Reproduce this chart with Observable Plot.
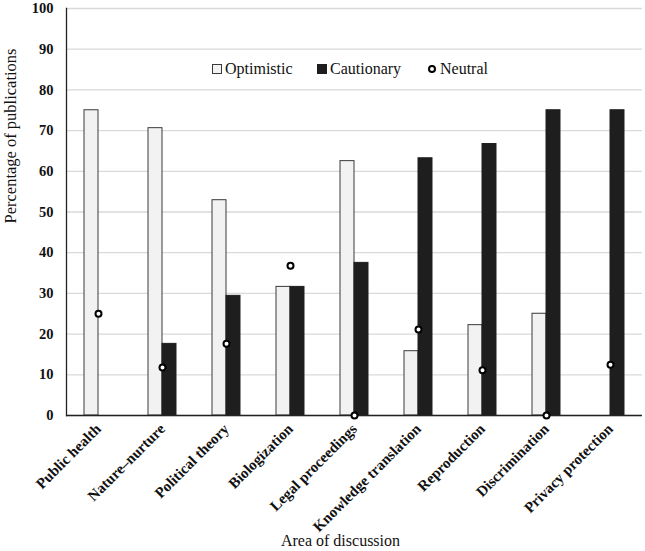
<!DOCTYPE html>
<html>
<head>
<meta charset="utf-8">
<script src="https://cdn.jsdelivr.net/npm/d3@7"></script>
<script src="https://cdn.jsdelivr.net/npm/@observablehq/plot@0.6"></script>
<style>
  html, body { margin: 0; padding: 0; background: white; }
  #wrap { position: relative; width: 645px; height: 551px; font-family: "Liberation Serif", serif; }
  #legend { position: absolute; top: 0; left: 0; font-family: "Liberation Serif", serif; font-size: 16px; color: #111; }
  #legend .item { position: absolute; display: flex; align-items: center; white-space: nowrap; }
  #legend svg { margin-right: 3px; }
</style>
</head>
<body>
<div id="wrap">
  <div id="chart"></div>
  <div id="legend"></div>
</div>
<script>
const categories = ["Public health", "Nature–nurture", "Political theory", "Biologization", "Legal proceedings", "Knowledge translation", "Reproduction", "Discrimination", "Privacy protection"];
const optimistic = [75, 70.6, 52.9, 31.6, 62.5, 15.8, 22.2, 25, 0];
const cautionary = [0, 17.6, 29.4, 31.6, 37.5, 63.2, 66.7, 75, 75];
const neutral = [25, 11.8, 17.6, 36.8, 0, 21.1, 11.1, 0, 12.5];
const series = ["Optimistic", "Cautionary"];
const yTicks = [0, 10, 20, 30, 40, 50, 60, 70, 80, 90, 100];
const yTitle = "Percentage of publications";
const xTitle = "Area of discussion";

const optData = categories.map((c, i) => ({cat: c, series: "Optimistic", value: optimistic[i]}));
const cautData = categories.map((c, i) => ({cat: c, series: "Cautionary", value: cautionary[i]}));
const neuData = categories.map((c, i) => ({cat: c, value: neutral[i]}));

const chart = Plot.plot({
  width: 645,
  height: 551,
  marginTop: 8,
  marginBottom: 136,
  marginLeft: 65,
  marginRight: 3,
  style: {fontFamily: "'Liberation Serif', serif", fontSize: "14px", background: "white", color: "#111", overflow: "visible"},
  fx: {domain: categories, padding: 0, label: null},
  x: {domain: series, paddingInner: 0, paddingOuter: 1.14, axis: null},
  y: {domain: [0, 100]},
  marks: [
    Plot.gridY(yTicks, {stroke: "#d9d9d9", strokeOpacity: 1, strokeWidth: 1.3}),
    Plot.barY(optData, {fx: "cat", x: "series", y: "value", fill: "#f2f2f2", stroke: "#3a3a3a", strokeWidth: 1}),
    Plot.barY(cautData, {fx: "cat", x: "series", y: "value", fill: "#1e1e1e", stroke: "#1e1e1e", strokeWidth: 1}),
    Plot.ruleY([0], {stroke: "#222", strokeWidth: 1.3}),
    Plot.frame({anchor: "left", fx: () => categories[0], stroke: "#222", strokeWidth: 1.3}),
    Plot.dot(neuData, {fx: "cat", y: "value", r: 3, fill: "white", stroke: "black", strokeWidth: 2}),
    Plot.axisY(yTicks, {tickSize: 0, tickPadding: 13, fontWeight: "bold", fontSize: 14.5, label: null}),
    Plot.axisFx({anchor: "bottom", tickRotate: -45, tickSize: 0, tickPadding: 11, fontWeight: "bold", fontSize: 15, label: null}),
    Plot.text([yTitle], {fx: () => categories[0], text: d => d, frameAnchor: "left", rotate: -90, dx: -56, dy: 11.5, fontSize: 16.5, fill: "#111"}),
    Plot.text([xTitle], {fx: () => categories[4], text: d => d, frameAnchor: "bottom", dx: -14, dy: 130, fontSize: 16, fill: "#111"})
  ]
});
document.getElementById("chart").appendChild(chart);

// legend
const legend = document.getElementById("legend");
const items = [
  {name: "Optimistic", left: 212, sw: '<svg width="10" height="10"><rect x="0.5" y="0.5" width="9" height="9" fill="#f2f2f2" stroke="#3a3a3a"/></svg>'},
  {name: "Cautionary", left: 317, sw: '<svg width="10" height="10"><rect x="0.5" y="0.5" width="9" height="9" fill="#1e1e1e" stroke="#1e1e1e"/></svg>'},
  {name: "Neutral", left: 427, sw: '<svg width="10" height="10"><circle cx="5" cy="5" r="3" fill="white" stroke="black" stroke-width="2"/></svg>'}
];
items.forEach(it => {
  const d = document.createElement("div");
  d.className = "item";
  d.style.left = it.left + "px";
  d.style.top = "60px";
  d.innerHTML = it.sw + "<span>" + it.name + "</span>";
  legend.appendChild(d);
});
</script>
</body>
</html>
